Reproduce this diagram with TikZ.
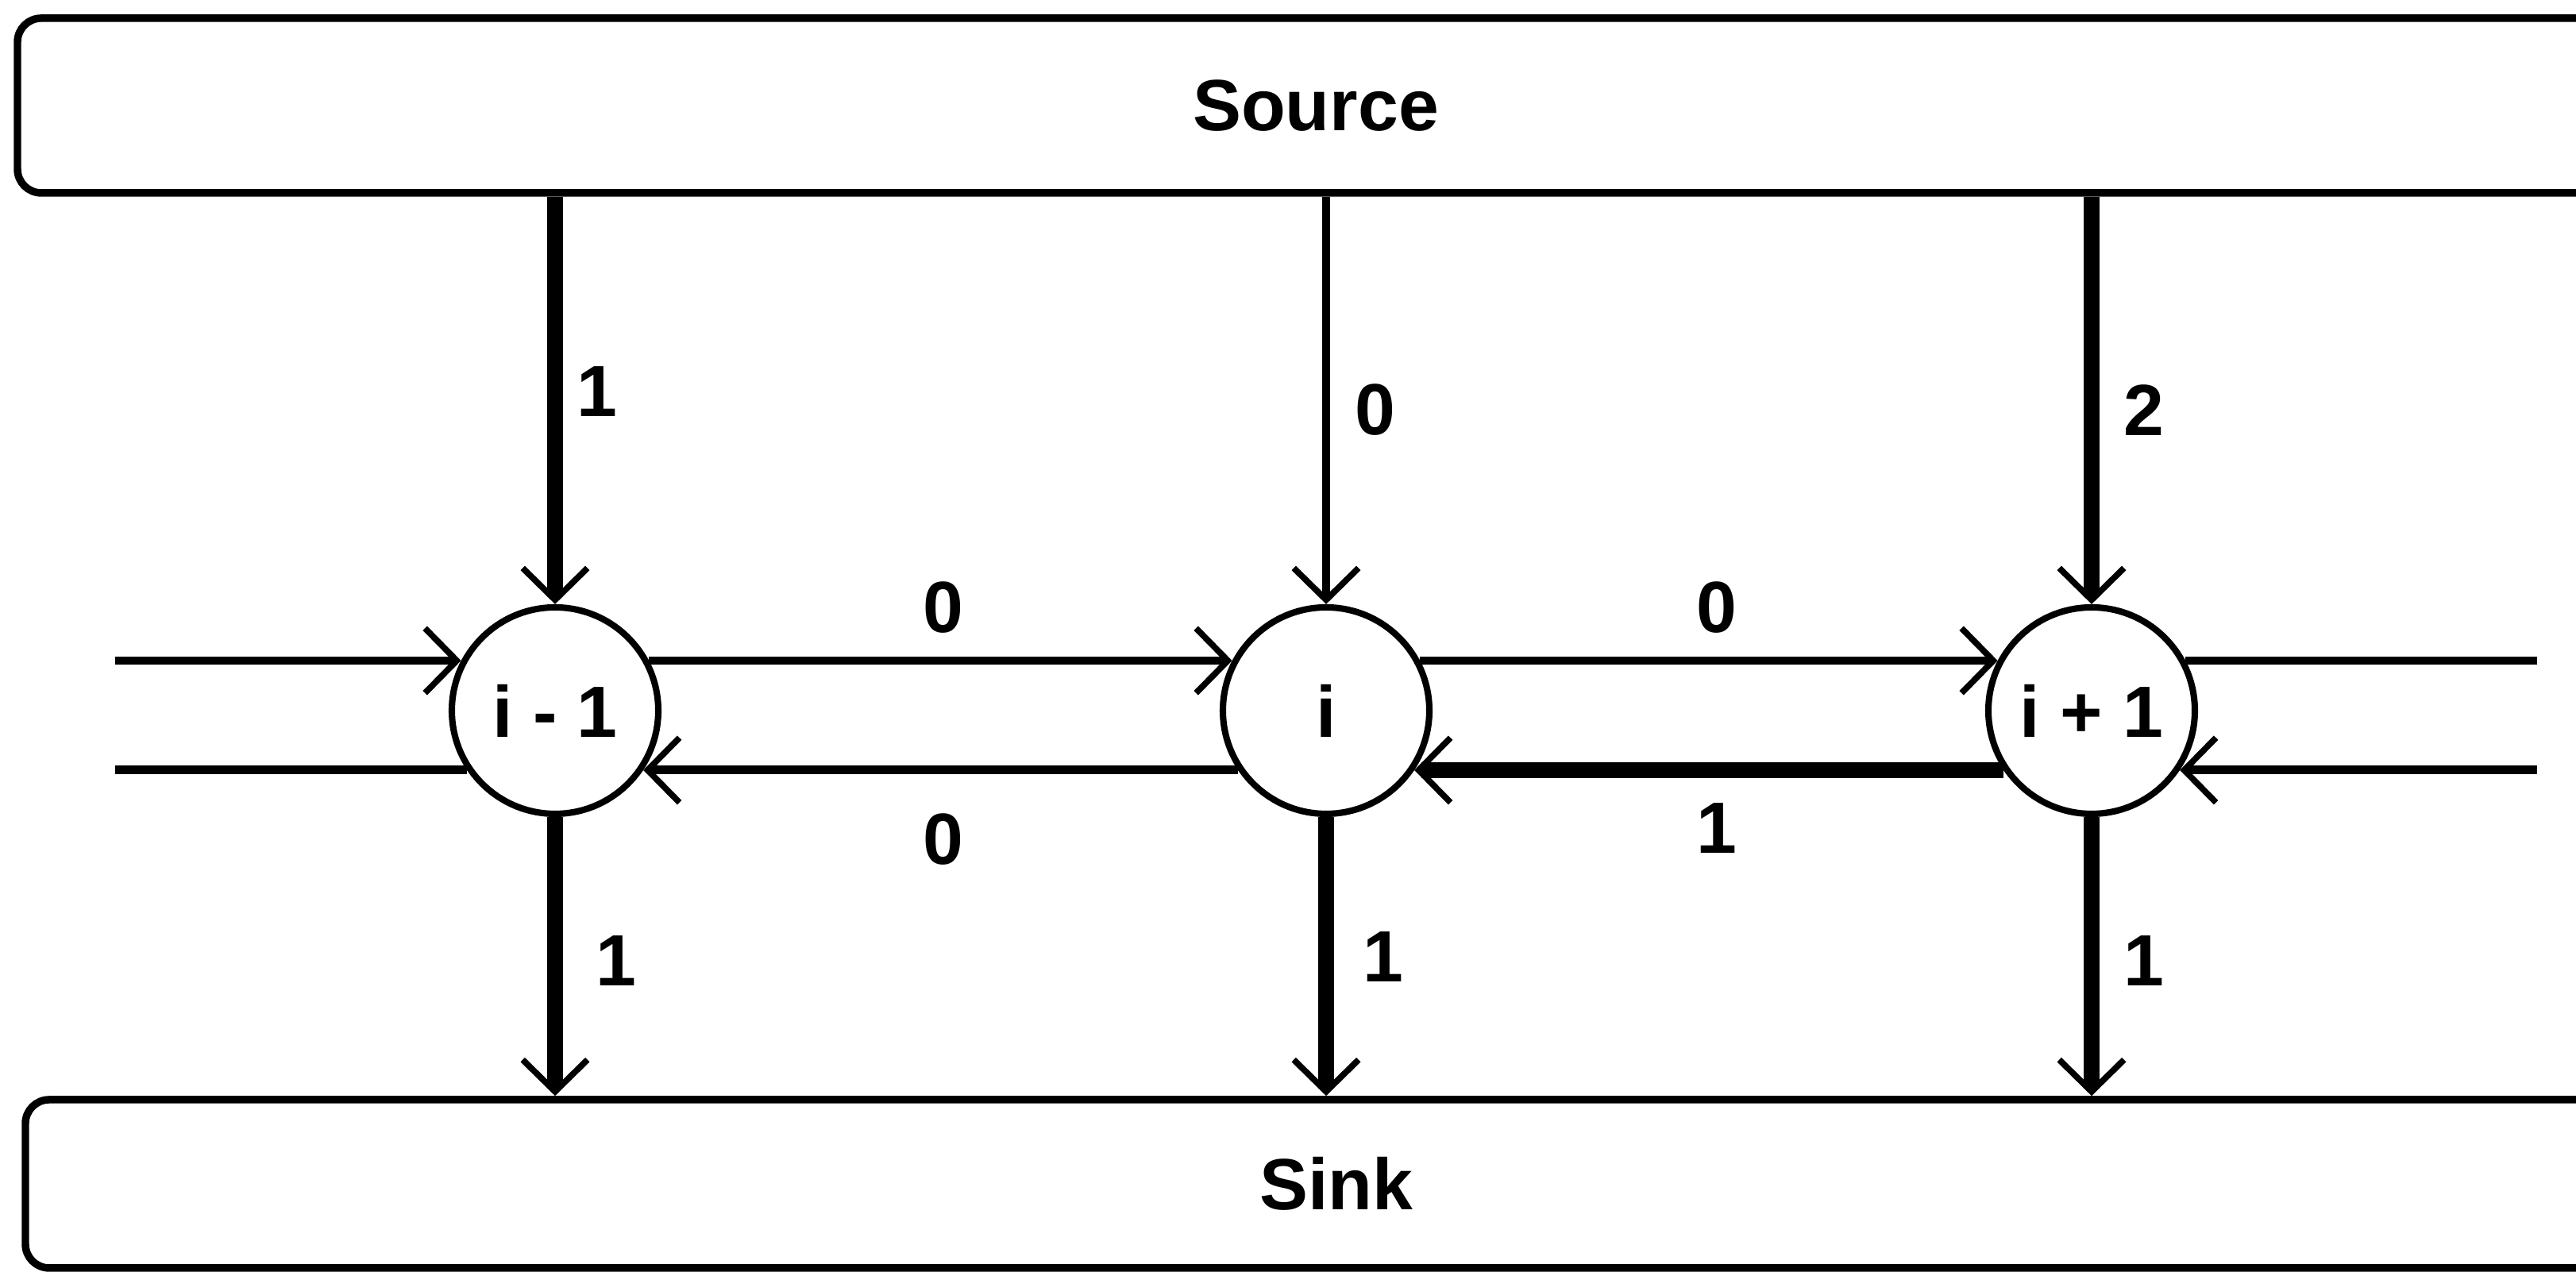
\documentclass[tikz,border=0pt]{standalone}
\usepackage{fontspec}
\setmainfont{Liberation Sans}
\usetikzlibrary{arrows.meta}

\begin{document}
\begin{tikzpicture}[
    >={Straight Barb[length=5.7pt,width=11.6pt,line width=1.1pt 0 1]},
    every node/.style={font=\fontsize{13}{15}\selectfont\bfseries},
    vertex/.style={draw,circle,line width=1.15pt,minimum size=1.3cm,inner sep=0pt},
    terminal/.style={draw,rectangle,rounded corners=0.15cm,line width=1.35pt,minimum height=1.1cm},
    noflow/.style={line width=1.55pt},
    flow/.style={line width=2.85pt}]
				\clip (0,0) rectangle (16.22,8.01);

				\node[terminal,minimum width=16.35cm] (source) at (8.285,7.345) {Source};
				\node[terminal,minimum width=16.51cm,minimum height=1.06cm] (sink) at (8.415,0.555) {Sink};

				\node[vertex] (im1) at (3.495,3.535) {i - 1};
				\node[vertex] (i) at (8.35,3.535) {i};
				\node[vertex] (ip1) at (13.17,3.535) {i + 1};

				\coordinate (west) at (0.725,0);
				\coordinate (east) at (15.975,0);

				% source -> i-1, i, i+1
				\draw[flow,->] (im1 |- source.south) -- (im1.north);
				\draw[noflow,->] (i |- source.south) -- (i.north);
				\draw[flow,->] (ip1 |- source.south) -- (ip1.north);
				\node (c1) at (3.76,5.545) {1};
				\node (c2) at (8.66,5.43) {0};
				\node (c3) at (13.5,5.425) {2};

				% i-1, i, i+1 -> sink
				\draw[flow,->] (im1.south) -- (im1 |- sink.north);
				\draw[flow,->] (i.south) -- (i |- sink.north);
				\draw[flow,->] (ip1.south) -- (ip1 |- sink.north);
				\node (d1) at (3.88,1.96) {1};
				\node (d2) at (8.71,1.985) {1};
				\node (d3) at (13.5,1.96) {1};

				% forward
				\draw[noflow,->] (west |- im1.152) -- (im1.152);
				\draw[noflow,->] (im1.28) -- (i.152);
				\draw[noflow,->] (i.28) -- (ip1.152);
				\draw[noflow] (ip1.28) -- (east |- ip1.28);
				\node (f1) at (5.94,4.185) {0};
				\node (f2) at (10.81,4.185) {0};

				% backward
				\draw[noflow,->] (east |- ip1.-34) -- (ip1.-34);
				\draw[flow,->] (ip1.214) -- (i.-34);
				\draw[noflow,->] (i.214) -- (im1.-34);
				\draw[noflow] (im1.214) -- (west |- im1.214);
				\node (b1) at (5.94,2.725) {0};
				\node (b2) at (10.81,2.795) {1};
			\end{tikzpicture}
\end{document}
